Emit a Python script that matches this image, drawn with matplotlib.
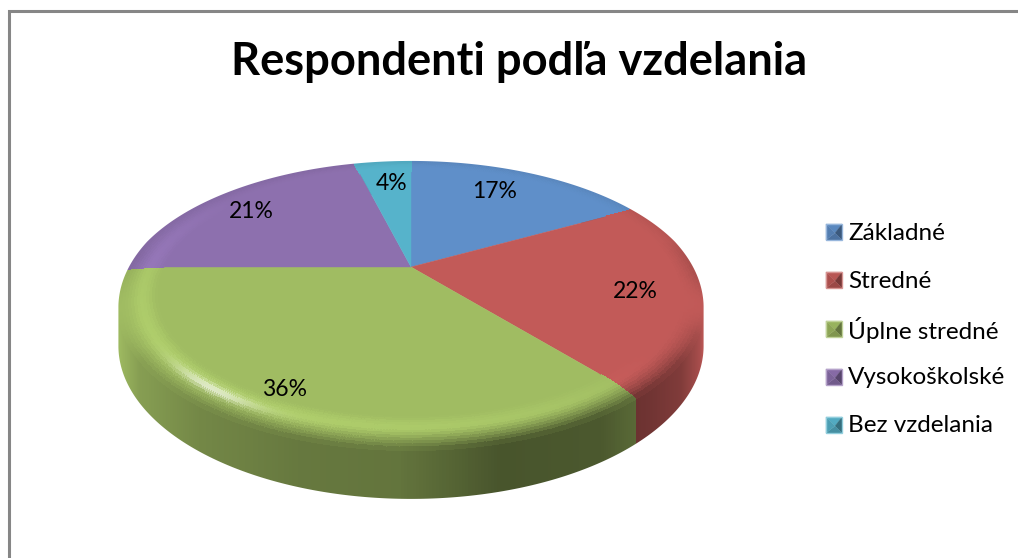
import numpy as np
import matplotlib
matplotlib.use('Agg')
import matplotlib.pyplot as plt
from matplotlib.collections import PolyCollection
from matplotlib.patches import Polygon, PathPatch
from matplotlib.path import Path

title = 'Respondenti podľa vzdelania'
categories = ['Základné', 'Stredné', 'Úplne stredné', 'Vysokoškolské', 'Bez vzdelania']
values = [17, 22, 36, 21, 4]
colors = ['#5f8fc9', '#c25a58', '#a0bc62', '#8d70ae', '#56b3cb']

# pixel layout of the tilted disc
CX, CY = 411, 267
A, B, K = 283, 133, 0.254
DEPTH = 40
R0 = 0.87

label_pos = [(495, 192), (635, 291), (285, 390), (251, 211), (392, 184)]
legend_y = [232, 280, 329, 377, 425]


def front(theta):
    return np.clip((0.2 - np.cos(np.radians(theta))) / 0.4, 0, 1)


def rim_drop(theta, r):
    t = np.clip((r - R0) / (1 - R0), 0, 1)
    return 0.09 * t ** 2 * front(theta)


def project(theta, r=1.0, z=None):
    # theta is in degrees, clockwise from the top
    if z is None:
        z = rim_drop(theta, r)
    t = np.radians(theta)
    u, v = r * np.sin(t), r * np.cos(t)
    w = 1 + K * v
    return CX + A * u / w, CY - (B * v - DEPTH * z) / w


def side_shade(x):
    return np.interp(x, [118, 140, 200, 300, 400, 500, 600, 632, 650, 680, 698, 704],
                     [1.0, .84, .72, .64, .62, .45, .47, .55, .58, .66, .85, 1.0])


def top_color(rgb, theta, r):
    t = np.clip((r - R0) / (1 - R0), 0, 1)
    bump = np.exp(-((t - 0.45) / 0.3) ** 2) * min(1.0, t * 5)
    light = max(0.0, np.cos(np.radians(theta - 218)))
    col = rgb * (1 + 0.10 * light * bump)
    col = col + (1 - col) * 0.7 * light ** 60 * np.exp(-((t - 0.5) / 0.13) ** 2)
    # the rim rolls over into the side at the front
    x, _ = project(theta)
    edge = np.clip((t - 0.4) / 0.6, 0, 1) ** 1.6
    s = front(theta)
    col = col * (1 - edge * s) + rgb * side_shade(x) * edge * s
    col = col * (1 - 0.06 * edge * (1 - s))
    return np.clip(col, 0, 1)


fig = plt.figure(figsize=(10.18, 5.58), dpi=100)
ax = fig.add_axes([0, 0, 1, 1])
ax.set_xlim(0, 1018)
ax.set_ylim(558, 0)
ax.axis('off')

edges = np.cumsum([0] + values) / sum(values) * 360
rgbs = [np.array(matplotlib.colors.to_rgb(c)) for c in colors]
STEP = 0.5

# side of the disc, back to front
side = []
for i in range(len(values)):
    for a in np.arange(edges[i], edges[i + 1], STEP):
        b = min(a + STEP, edges[i + 1])
        pts = [project(a), project(b), project(b, z=1), project(a, z=1)]
        c = np.clip(rgbs[i] * side_shade((pts[0][0] + pts[1][0]) / 2), 0, 1)
        side.append((-np.cos(np.radians(a)), pts, c))
side.sort(key=lambda s: s[0])
ax.add_collection(PolyCollection([s[1] for s in side], facecolors=[s[2] for s in side],
                                 edgecolors=[s[2] for s in side], linewidths=0.6,
                                 antialiased=False, zorder=1))

# bevelled rim, then the flat middle of each slice on top
rings = np.linspace(R0 - 0.005, 1, 15)
for i in range(len(values)):
    polys, cols = [], []
    for a in np.arange(edges[i], edges[i + 1], STEP):
        b = min(a + STEP, edges[i + 1])
        for r0, r1 in zip(rings[:-1], rings[1:]):
            polys.append([project(a, r0), project(b, r0), project(b, r1), project(a, r1)])
            cols.append(top_color(rgbs[i], (a + b) / 2, (r0 + r1) / 2))
    ax.add_collection(PolyCollection(polys, facecolors=cols, edgecolors=cols, linewidths=0.6,
                                     antialiased=False, zorder=2))
for i in range(len(values)):
    arc = np.linspace(edges[i], edges[i + 1], 120)
    pts = [(CX, CY)] + [project(a, R0) for a in arc]
    ax.add_patch(Polygon(pts, closed=True, facecolor=rgbs[i], edgecolor=rgbs[i], lw=0.3, zorder=3))

# white mask around the silhouette gives the disc a smooth outer edge
th = np.linspace(0, 360, 721)[:-1]
outline = [project(a) if np.cos(np.radians(a)) >= -K else project(a, z=1) for a in th]
box = [(100, 150), (100, 515), (720, 515), (720, 150)]
verts = box + [box[0]] + outline + [outline[0]]
codes = [Path.MOVETO] + [Path.LINETO] * 3 + [Path.CLOSEPOLY]
codes += [Path.MOVETO] + [Path.LINETO] * (len(outline) - 1) + [Path.CLOSEPOLY]
ax.add_patch(PathPatch(Path(verts, codes), facecolor='white', edgecolor='none', zorder=4))

# chart frame, cut off by the picture on the right and at the bottom
ax.plot([9, 9, 1018], [558, 11, 11], color='#868686', lw=2.2, solid_joinstyle='miter', zorder=5)

# data labels
for v, (lx, ly) in zip(values, label_pos):
    ax.text(lx, ly, f'{v}%', ha='center', va='center', family='Lato', fontsize=16.5,
            color='black', zorder=6)

# legend, with the small pyramid markers
for name, rgb, ly in zip(categories, rgbs, legend_y):
    x0, x1 = 826, 842
    y0, y1 = ly - 8, ly + 8
    mid = ((x0 + x1) / 2 + 1, ly + 1)
    faces = [
        ([(x0, y0), (x1, y0), mid], 0.95),
        ([(x1, y0), (x1, y1), mid], 0.62),
        ([(x1, y1), (x0, y1), mid], 0.8),
        ([(x0, y1), (x0, y0), mid], 0.88),
    ]
    for pts, s in faces:
        c = np.clip(rgb * s, 0, 1)
        ax.add_patch(Polygon(pts, closed=True, facecolor=c, edgecolor=c, lw=0.2, zorder=6))
    frame = rgb + (1 - rgb) * 0.35
    ax.add_patch(Polygon([(x0, y0), (x1, y0), (x1, y1), (x0, y1)], closed=True, fill=False,
                         edgecolor=frame, lw=1.0, zorder=6))
    ax.text(848, ly + 1, name, ha='left', va='center', family='Lato', fontsize=17.5,
            color='black', zorder=6)

ax.text(519.5, 62, title, ha='center', va='center', family='Lato', fontweight='bold',
        fontsize=32.6, color='black', zorder=6)

fig.savefig('out.png', dpi=100)
